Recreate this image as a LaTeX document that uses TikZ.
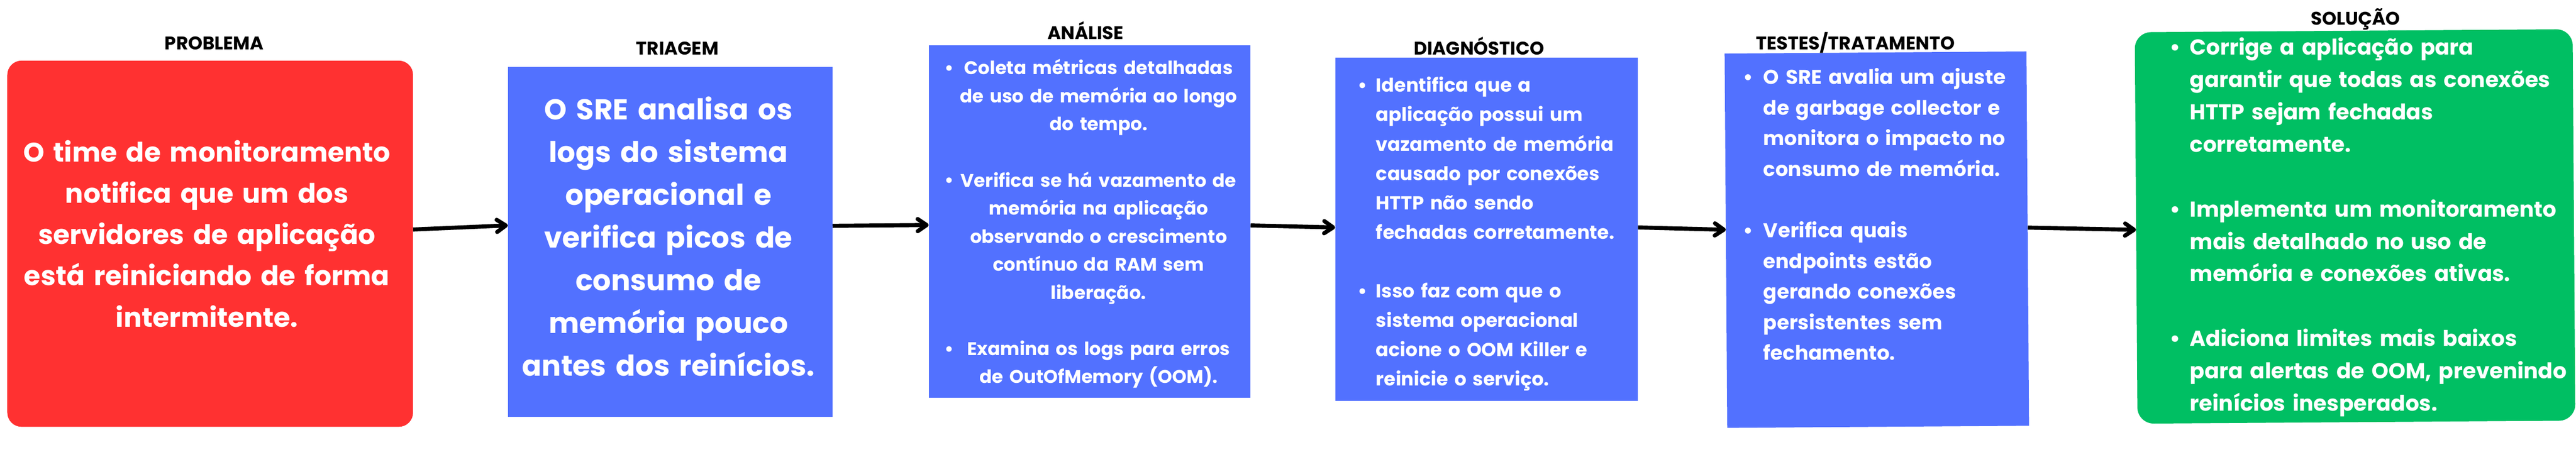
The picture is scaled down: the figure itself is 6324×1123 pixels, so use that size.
\documentclass[tikz,border=0pt]{standalone}
\usepackage{fontspec}
\setmainfont{Poppins}
\usetikzlibrary{arrows.meta}
\definecolor{cred}{HTML}{FF3131}
\definecolor{cblue}{HTML}{5271FF}
\definecolor{cgreen}{HTML}{00BF63}
\newcommand\ms{\strut}
\begin{document}
\begin{tikzpicture}[x=1pt,y=-1pt,
  box/.style={draw=none, inner sep=0pt, anchor=center},
  lbl/.style={inner sep=0pt, anchor=base, text=black, font=\bfseries\fontsize{45}{54}\selectfont},
  body/.style={inner sep=0pt, text=white, text width=1000pt},
  bul/.style={inner sep=0pt, anchor=base, text=white},
  arr/.style={line width=10pt, -{Straight Barb[length=22pt,width=30pt,round]}}
]
\useasboundingbox[fill=white] (0,0) rectangle (6324,1123);

% boxes
\node[box, fill=cred, rounded corners=35pt, minimum width=996pt, minimum height=900pt] (prob) at (516,599) {};
\node[box, fill=cblue, minimum width=797pt, minimum height=859pt] (tri) at (1645.5,594.5) {};
\node[box, fill=cblue, minimum width=790pt, minimum height=867pt] (ana) at (2675,544.5) {};
\node[box, fill=cblue, minimum width=743pt, minimum height=843pt] (dia) at (3649.5,563.5) {};
\node[box, fill=cblue, rotate=0.4, minimum width=741pt, minimum height=920pt] (tes) at (4607.5,589) {};
\node[box, fill=cgreen, rotate=0.4, rounded corners=40pt, minimum width=1075pt, minimum height=962pt] (sol) at (5781.5,556.5) {};

% labels
\node[lbl] (lprob) at (526,122) {PROBLEMA};
\node[lbl] (ltri) at (1663,135) {TRIAGEM};
\node[lbl] (lana) at (2665,97) {ANÁLISE};
\node[lbl] (ldia) at (3631,135) {DIAGNÓSTICO};
\node[lbl] (ltes) at (4555,122) {TESTES/TRATAMENTO};
\node[lbl] (lsol) at (5783,61) {SOLUÇÃO};

% texts
\node[body, align=center, anchor=north, font=\bfseries\fontsize{66}{101.5}\selectfont] (tprob) at (508,326)
 {\ms O time de monitoramento\\\ms notifica que um dos\\\ms servidores de aplicação\\\ms está reiniciando de forma\\\ms intermitente.};

\node[body, align=center, anchor=north, font=\bfseries\fontsize{70.5}{105}\selectfont] (ttri) at (1641,220.5)
 {\ms O SRE analisa os\\\ms logs do sistema\\\ms operacional e\\\ms verifica picos de\\\ms consumo de\\\ms memória pouco\\\ms antes dos reinícios.};

\node[body, align=center, anchor=north, font=\bfseries\fontsize{45}{69}\selectfont] (tana) at (2697,134.7)
 {\ms Coleta métricas detalhadas\\\ms de uso de memória ao longo\\\ms do tempo.\\\ms\\\ms Verifica se há vazamento de\\\ms memória na aplicação\\\ms observando o crescimento\\\ms contínuo da RAM sem\\\ms liberação.\\\ms\\\ms Examina os logs para erros\\\ms de OutOfMemory (OOM).};
\node[bul, font=\bfseries\fontsize{45}{69}\selectfont] (ba1) at (2330,183) {•};
\node[bul, font=\bfseries\fontsize{45}{69}\selectfont] (ba2) at (2330,459) {•};
\node[bul, font=\bfseries\fontsize{45}{69}\selectfont] (ba3) at (2330,873) {•};

\node[body, align=left, anchor=north west, font=\bfseries\fontsize{46.3}{72.2}\selectfont] (tdia) at (3378,175.5)
 {\ms Identifica que a\\\ms aplicação possui um\\\ms vazamento de memória\\\ms causado por conexões\\\ms HTTP não sendo\\\ms fechadas corretamente.\\\ms\\\ms Isso faz com que o\\\ms sistema operacional\\\ms acione o OOM Killer e\\\ms reinicie o serviço.};
\node[bul, font=\bfseries\fontsize{46.3}{72.2}\selectfont] (bd1) at (3345,226) {•};
\node[bul, font=\bfseries\fontsize{46.3}{72.2}\selectfont] (bd2) at (3345,731.4) {•};

\node[body, align=left, anchor=north west, font=\bfseries\fontsize{49}{75.3}\selectfont] (ttes) at (4329,154.3)
 {\ms O SRE avalia um ajuste\\\ms de garbage collector e\\\ms monitora o impacto no\\\ms consumo de memória.\\\ms\\\ms Verifica quais\\\ms endpoints estão\\\ms gerando conexões\\\ms persistentes sem\\\ms fechamento.};
\node[bul, font=\bfseries\fontsize{49}{75.3}\selectfont] (bt1) at (4292,207) {•};
\node[bul, font=\bfseries\fontsize{49}{75.3}\selectfont] (bt2) at (4292,583.5) {•};

\node[body, align=left, anchor=north west, font=\bfseries\fontsize{53}{79.5}\selectfont] (tsol) at (5376,79.35)
 {\ms Corrige a aplicação para\\\ms garantir que todas as conexões\\\ms HTTP sejam fechadas\\\ms corretamente.\\\ms\\\ms Implementa um monitoramento\\\ms mais detalhado no uso de\\\ms memória e conexões ativas.\\\ms\\\ms Adiciona limites mais baixos\\\ms para alertas de OOM, prevenindo\\\ms reinícios inesperados.};
\node[bul, font=\bfseries\fontsize{53}{79.5}\selectfont] (bs1) at (5340,135) {•};
\node[bul, font=\bfseries\fontsize{53}{79.5}\selectfont] (bs2) at (5340,532.5) {•};
\node[bul, font=\bfseries\fontsize{53}{79.5}\selectfont] (bs3) at (5340,850.5) {•};

% arrows
\draw[arr] ([yshift=35pt]prob.east) -- ([yshift=40.5pt]tri.west);
\draw[arr] ([yshift=39.5pt]tri.east) -- ([yshift=-8.5pt]ana.west);
\draw[arr] ([yshift=-9.5pt]ana.east) -- ([yshift=4.5pt]dia.west);
\draw[arr] ([yshift=4.5pt]dia.east) -- ([yshift=27pt]tes.west);
\draw[arr] ([yshift=27pt]tes.east) -- ([yshift=-4.5pt]sol.west);
\end{tikzpicture}
\end{document}
